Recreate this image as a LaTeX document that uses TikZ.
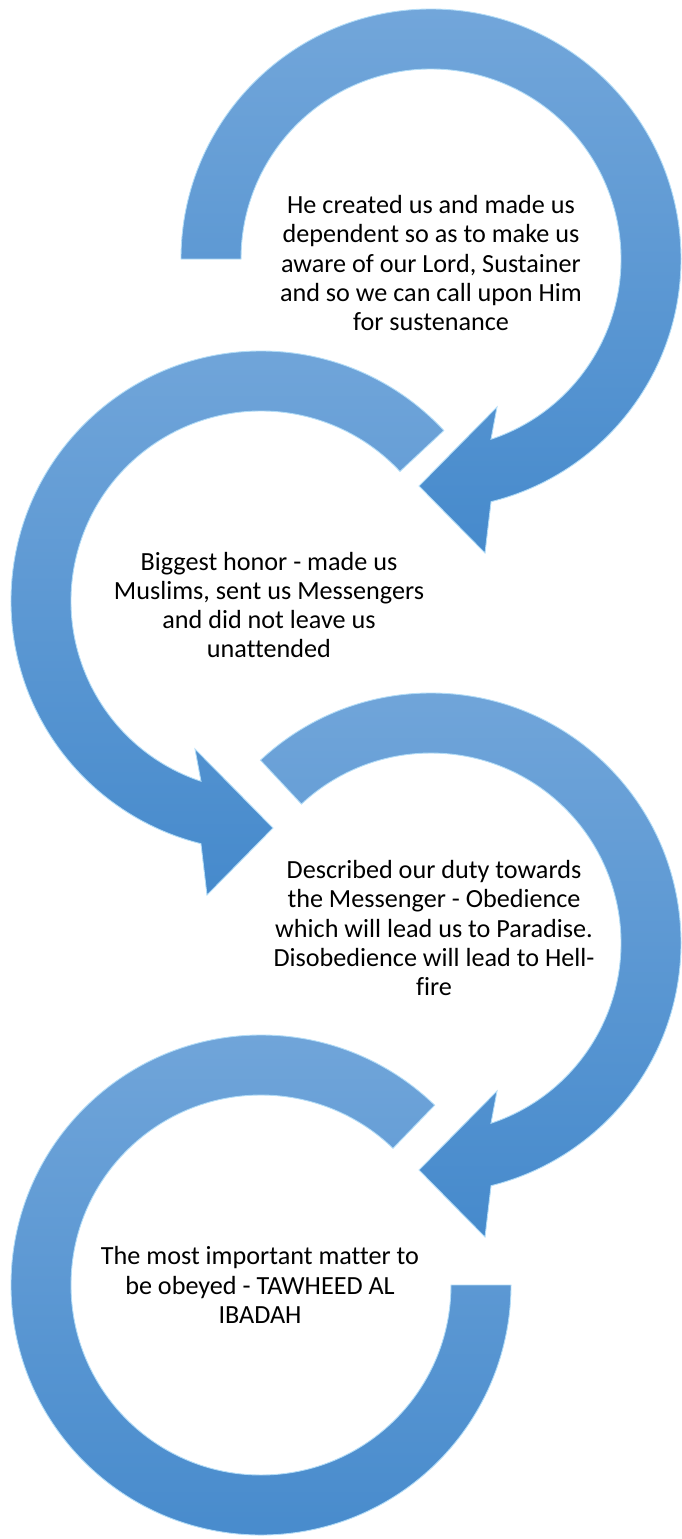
\documentclass[tikz,border=0pt]{standalone}
\usepackage{fontspec}
\setmainfont{Carlito}[Ligatures={CommonOff,ContextualOff}]
\usetikzlibrary{positioning}
\usepackage{xcolor}

\definecolor{ringtop}{RGB}{114,166,218}
\definecolor{ringbot}{RGB}{70,138,204}
\definecolor{ringedge}{RGB}{178,220,247}

\tikzset{
  ringfill/.style={top color=ringtop, bottom color=ringbot, draw=ringedge, line width=0.5pt, line join=miter},
  ringtext/.style={align=center, font=\fontsize{14.9}{16.6}\selectfont, text=black}
}

% ring with arrow head, tail at angle #1
\newcommand{\headring}[1]{%
  \path[ringfill] (#1:250) arc[start angle=#1, end angle=-76.1, radius=250]
    -- (54,-294) -- (-12,-227) -- (66,-148) -- (-71.6:190)
    arc[start angle=-71.6, end angle=#1, radius=190] -- cycle;
}

\begin{document}
\begin{tikzpicture}[x=0.02cm, y=0.02cm]
            % Background and size
            \fill[white] (0,0) rectangle (682,-1539);
            \useasboundingbox (0,0) rectangle (682,-1539);

            % Ring 1
            \begin{scope}[shift={(431,-259)}]
              \headring{180}
            \end{scope}

            % Ring 2 (mirrored)
            \begin{scope}[shift={(261,-601)}, xscale=-1]
              \headring{137}
            \end{scope}

            % Ring 3
            \begin{scope}[shift={(431,-943)}]
              \headring{133}
            \end{scope}

            % Ring 4 (no head)
            \begin{scope}[shift={(261,-1285)}]
              \path[ringfill] (46:250) arc[start angle=46, end angle=360, radius=250]
                -- (0:190) arc[start angle=360, end angle=46, radius=190] -- cycle;
            \end{scope}

            % Labels
            \node[ringtext] (t1) at (431,-263) {He created us and made us\\dependent so as to make us\\aware of our Lord, Sustainer\\and so we can call upon Him\\for sustenance};
            \node[ringtext] (t2) at (269,-605) {Biggest honor - made us\\Muslims, sent us Messengers\\and did not leave us\\unattended};
            \node[ringtext] (t3) at (434,-928) {Described our duty towards\\the Messenger - Obedience\\which will lead us to Paradise.\\Disobedience will lead to Hell-\\fire};
            \node[ringtext] (t4) at (260,-1285) {The most important matter to\\be obeyed - TAWHEED AL\\IBADAH};
        \end{tikzpicture}
\end{document}
